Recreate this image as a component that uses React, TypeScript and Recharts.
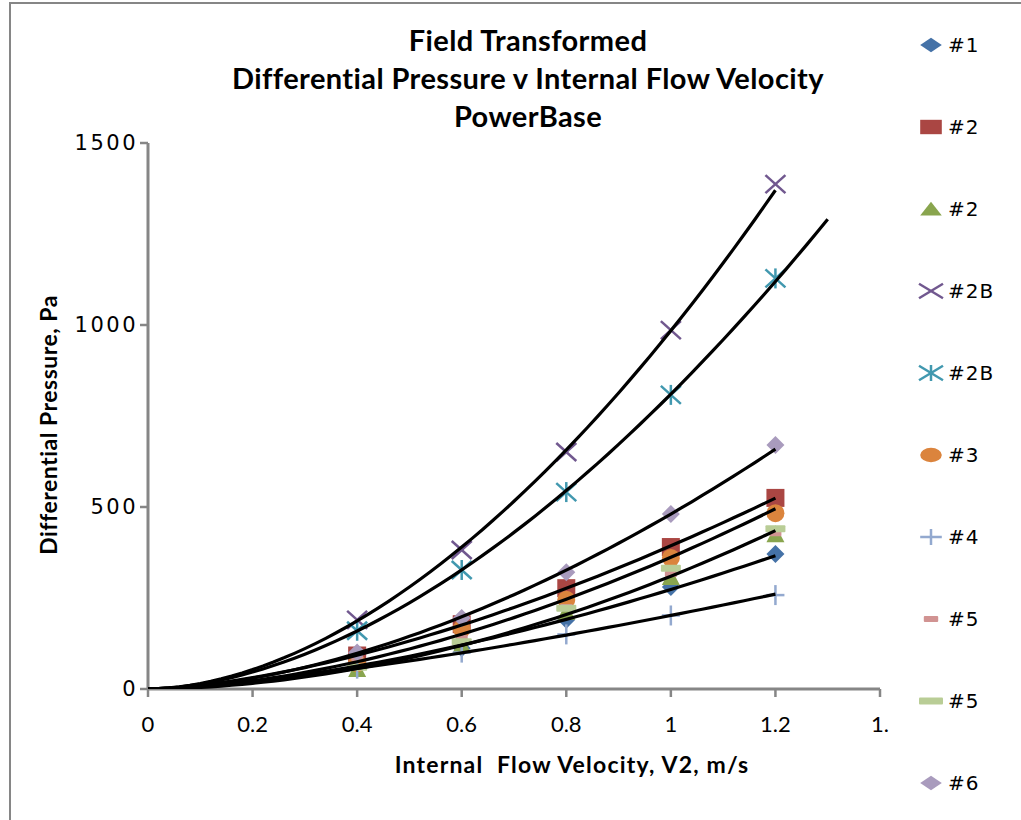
import React from "react";
import { ScatterChart, Scatter, XAxis, YAxis } from "recharts";

// velocities where every test point was taken
const velocities = [0.4, 0.6, 0.8, 1.0, 1.2];

const p1 = [66, 112, 190, 280, 371];
const p2 = [92, 178, 277, 390, 525];
const p2tri = [55, 122, 212, 308, 425];
const p2bX = [190, 382, 651, 986, 1387];
const p2bStar = [160, 327, 541, 808, 1128];
const p3 = [71, 165, 245, 360, 483];
const p4 = [56, 100, 150, 202, 258];
const p5a = [85, 140, 225, 316, 428];
const p5b = [60, 130, 222, 332, 440];
const p6 = [100, 195, 321, 481, 670];

const xTicks = [0, 0.2, 0.4, 0.6, 0.8, 1, 1.2, 1.4];
const yTicks = [0, 500, 1000, 1500];

const titleLines = [
  "Field Transformed",
  "Differential Pressure v Internal Flow Velocity",
  "PowerBase",
];

type Marker = "diamond" | "square" | "triangle" | "x" | "star" | "circle" | "plus" | "dashS" | "dashL";

interface SeriesDef {
  name: string;
  values: number[];
  color: string;
  marker: Marker;
  trendTo?: number; // power trendline drawn from 0 to this x
}

const series: SeriesDef[] = [
  { name: "#1", values: p1, color: "#4572A7", marker: "diamond", trendTo: 1.2 },
  { name: "#2", values: p2, color: "#AA4643", marker: "square", trendTo: 1.2 },
  { name: "#2", values: p2tri, color: "#89A54E", marker: "triangle", trendTo: 1.2 },
  { name: "#2B", values: p2bX, color: "#71588F", marker: "x", trendTo: 1.2 },
  { name: "#2B", values: p2bStar, color: "#4198AF", marker: "star", trendTo: 1.3 },
  { name: "#3", values: p3, color: "#DB843D", marker: "circle", trendTo: 1.2 },
  { name: "#4", values: p4, color: "#93A9CF", marker: "plus", trendTo: 1.2 },
  { name: "#5", values: p5a, color: "#D19392", marker: "dashS" },
  { name: "#5", values: p5b, color: "#B9CD96", marker: "dashL" },
  { name: "#6", values: p6, color: "#A99BBD", marker: "diamond", trendTo: 1.2 },
];

// Excel style power trendline: least squares on ln(x), ln(y)
const powerFit = (xs: number[], ys: number[]) => {
  const lx = xs.map(Math.log);
  const ly = ys.map(Math.log);
  const mx = lx.reduce((a, b) => a + b, 0) / lx.length;
  const my = ly.reduce((a, b) => a + b, 0) / ly.length;
  let num = 0;
  let den = 0;
  lx.forEach((v, i) => {
    num += (v - mx) * (ly[i] - my);
    den += (v - mx) * (v - mx);
  });
  const b = num / den;
  return { a: Math.exp(my - b * mx), b };
};

const trendData = (s: SeriesDef) => {
  const { a, b } = powerFit(velocities, s.values);
  const steps = Math.round((s.trendTo as number) * 50);
  return Array.from({ length: steps + 1 }, (_, i) => {
    const x = i / 50;
    return { x, y: x === 0 ? 0 : a * Math.pow(x, b) };
  });
};

const drawMarker = (m: Marker, color: string, cx: number, cy: number, legend = false) => {
  const sx = legend ? 1.2 : 1;
  const sy = legend ? 0.8 : 1;
  switch (m) {
    case "diamond":
      return (
        <polygon
          points={`${cx - 9 * sx},${cy} ${cx},${cy - 9 * sy} ${cx + 9 * sx},${cy} ${cx},${cy + 9 * sy}`}
          fill={color}
        />
      );
    case "square":
      return <rect x={cx - 9 * sx} y={cy - 9 * sy} width={18 * sx} height={18 * sy} fill={color} />;
    case "triangle":
      return (
        <polygon
          points={`${cx - 9 * sx},${cy + 8 * sy} ${cx + 9 * sx},${cy + 8 * sy} ${cx},${cy - 9 * sy}`}
          fill={color}
        />
      );
    case "x":
      return (
        <g stroke={color} strokeWidth={2.5}>
          <line x1={cx - 10 * sx} y1={cy - 9 * sy} x2={cx + 10 * sx} y2={cy + 9 * sy} />
          <line x1={cx - 10 * sx} y1={cy + 9 * sy} x2={cx + 10 * sx} y2={cy - 9 * sy} />
        </g>
      );
    case "star":
      return (
        <g stroke={color} strokeWidth={2.5}>
          <line x1={cx - 10 * sx} y1={cy - 9 * sy} x2={cx + 10 * sx} y2={cy + 9 * sy} />
          <line x1={cx - 10 * sx} y1={cy + 9 * sy} x2={cx + 10 * sx} y2={cy - 9 * sy} />
          <line x1={cx} y1={cy - 10 * sy} x2={cx} y2={cy + 10 * sy} />
        </g>
      );
    case "circle":
      return <ellipse cx={cx} cy={cy} rx={9 * sx} ry={9 * sy} fill={color} />;
    case "plus":
      return (
        <g stroke={color} strokeWidth={2.5}>
          <line x1={cx - 9 * sx} y1={cy} x2={cx + 9 * sx} y2={cy} />
          <line x1={cx} y1={cy - 10 * sy} x2={cx} y2={cy + 10 * sy} />
        </g>
      );
    case "dashS":
      return <rect x={cx - 6 * sx} y={cy - 3} width={12 * sx} height={6} fill={color} rx={1} />;
    case "dashL":
      return <rect x={cx - 10 * sx} y={cy - 3.5} width={20 * sx} height={7} fill={color} rx={1} />;
  }
  return null;
};

const axisGray = "#868686";

const App = () => {
  return (
    <div
      style={{
        position: "absolute",
        left: 0,
        top: 0,
        width: 1021,
        height: 820,
        overflow: "hidden",
        background: "#fff",
      }}
    >
      {/* outer chart frame, only left and top edges show */}
      <div
        style={{
          position: "absolute",
          left: 9,
          top: 2,
          width: 1100,
          height: 900,
          borderLeft: `2px solid ${axisGray}`,
          borderTop: `2px solid ${axisGray}`,
        }}
      />

      <ScatterChart
        width={1021}
        height={820}
        margin={{ top: 143, right: 141, bottom: 0, left: 0 }}
        style={{ position: "absolute", left: 0, top: 0 }}
      >
        <XAxis
          type="number"
          dataKey="x"
          domain={[0, 1.4]}
          ticks={xTicks}
          height={131}
          interval={0}
          allowDataOverflow
          axisLine={{ stroke: axisGray, strokeWidth: 3 }}
          tickLine={{ stroke: axisGray, strokeWidth: 2.5 }}
          tickSize={8}
          tickMargin={19}
          tickFormatter={(v: number) => (v === 1.4 ? "1." : String(v))}
          tick={{ fill: "#000", fontFamily: "Lato", fontSize: 22 }}
        />
        <YAxis
          type="number"
          dataKey="y"
          domain={[0, 1500]}
          ticks={yTicks}
          width={148}
          interval={0}
          allowDataOverflow
          axisLine={{ stroke: axisGray, strokeWidth: 3 }}
          tickLine={{ stroke: axisGray, strokeWidth: 2.5 }}
          tickSize={8}
          tickMargin={2}
          tick={{ fill: "#000", fontFamily: "DejaVu Sans", fontSize: 21, letterSpacing: 2.5 }}
        />

        {series.map((s, i) => (
          <Scatter
            key={`pts-${i}`}
            name={s.name}
            data={velocities.map((x, j) => ({ x, y: s.values[j] }))}
            fill={s.color}
            isAnimationActive={false}
            shape={(props: any) => drawMarker(s.marker, s.color, props.cx, props.cy)}
          />
        ))}

        {series
          .filter((s) => s.trendTo)
          .map((s, i) => (
            <Scatter
              key={`trend-${i}`}
              data={trendData(s)}
              fill="none"
              line={{ stroke: "#000", strokeWidth: 3.2 }}
              shape={() => <g />}
              legendType="none"
              isAnimationActive={false}
            />
          ))}
      </ScatterChart>

      {/* title */}
      <div
        style={{
          position: "absolute",
          left: 178,
          top: 21,
          width: 700,
          textAlign: "center",
          fontFamily: "Lato",
          fontWeight: 700,
          fontSize: 29,
          letterSpacing: 0.4,
          lineHeight: "38px",
        }}
      >
        {titleLines.map((t) => (
          <div key={t}>{t}</div>
        ))}
      </div>

      {/* axis titles */}
      <div
        style={{
          position: "absolute",
          left: 322,
          top: 750,
          width: 500,
          textAlign: "center",
          fontFamily: "Lato",
          fontWeight: 700,
          fontSize: 23,
          letterSpacing: 1.2,
          whiteSpace: "pre",
        }}
      >
        {"Internal  Flow Velocity, V2, m/s"}
      </div>
      <div
        style={{
          position: "absolute",
          left: 48,
          top: 426,
          width: 0,
          height: 0,
        }}
      >
        <div
          style={{
            position: "absolute",
            left: -160,
            top: -15,
            width: 320,
            textAlign: "center",
            transform: "rotate(-90deg)",
            fontFamily: "Lato",
            fontWeight: 700,
            fontSize: 23,
            letterSpacing: 0.5,
            whiteSpace: "nowrap",
          }}
        >
          Differential Pressure, Pa
        </div>
      </div>

      {/* legend */}
      <div style={{ position: "absolute", left: 914, top: 4 }}>
        {series.map((s, i) => (
          <div key={i} style={{ display: "flex", alignItems: "center", height: 82 }}>
            <svg width={34} height={28} style={{ display: "block" }}>
              {drawMarker(s.marker, s.color, 17, 14, true)}
            </svg>
            <span
              style={{
                fontFamily: "DejaVu Sans",
                fontSize: 20,
                letterSpacing: 1,
              }}
            >
              {s.name}
            </span>
          </div>
        ))}
      </div>
    </div>
  );
};

export default App;
